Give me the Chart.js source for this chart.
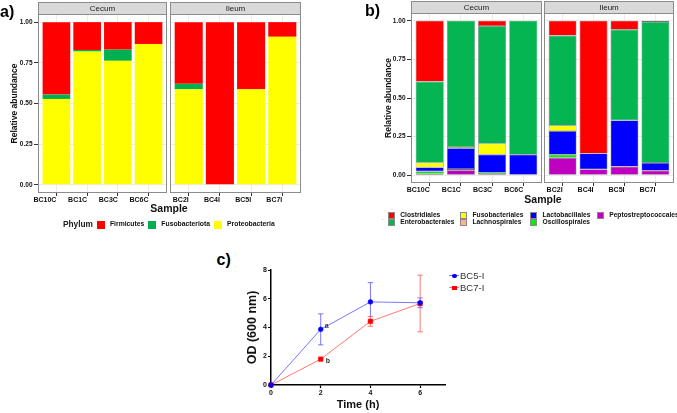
<!DOCTYPE html>
<html><head><meta charset="utf-8">
<script src="https://cdn.jsdelivr.net/npm/chart.js@4.4.1/dist/chart.umd.min.js"></script>
<style>
html,body{margin:0;padding:0;background:#fff;}
#root{position:relative;width:677px;height:413px;overflow:hidden;font-family:"Liberation Sans",Arial,sans-serif;color:#111;}
canvas{position:absolute;}
.lbl{position:absolute;white-space:nowrap;line-height:1;}
.letter{font-weight:bold;font-size:16px;color:#000;}
.xt{font-weight:bold;font-size:10.5px;text-align:center;width:80px;color:#111;}
.legA{position:absolute;left:63px;top:220px;height:9px;display:flex;align-items:center;white-space:nowrap;line-height:1;}
.legA .ttl{font-size:8.3px;font-weight:bold;margin-right:4px;color:#1a1a1a;}
.legA .sw{width:8px;height:8px;margin-right:5px;box-sizing:border-box;}
.legA .tx{font-size:6.8px;font-weight:bold;margin-right:4px;}
.legB{position:absolute;left:387.7px;top:211.3px;display:grid;grid-template-rows:7.6px 7.6px;grid-auto-flow:column;grid-template-columns:72.3px 70px 66.7px 90px;white-space:nowrap;line-height:1;}
.legB .it{display:flex;align-items:center;height:7.6px;}
.legB .sw{width:7.5px;height:7px;margin-right:5px;box-sizing:border-box;border:0.6px solid #8a8a8a;flex:none;}
.legB .tx{font-size:6.7px;font-weight:bold;}
.legC{position:absolute;left:449px;top:270px;line-height:1;}
.legC .it{display:flex;align-items:center;height:11.7px;}
.legC .mk{position:relative;width:10px;height:9px;margin-right:1px;flex:none;}
.legC .ln{position:absolute;left:0;top:4px;width:10px;height:1px;}
.legC .dt{position:absolute;left:3px;top:2.5px;width:4.5px;height:4.5px;}
.legC .tx{font-size:9.5px;color:#333;}
</style></head>
<body><div id="root">
<canvas id="aC" width="168" height="214" style="left:0px;top:0px"></canvas>
<canvas id="aI" width="131" height="214" style="left:170px;top:0px"></canvas>
<canvas id="bC" width="169" height="203" style="left:373px;top:0px"></canvas>
<canvas id="bI" width="130" height="203" style="left:544px;top:0px"></canvas>
<canvas id="cC" width="218" height="155" style="left:235px;top:258px"></canvas>
<div class="lbl letter" style="left:0px;top:4px">a)</div>
<div class="lbl letter" style="left:365px;top:3px">b)</div>
<div class="lbl letter" style="left:216.5px;top:251.5px">c)</div>
<div class="lbl xt" style="left:129px;top:203px">Sample</div>
<div class="lbl xt" style="left:503px;top:194px">Sample</div>
<div class="lbl" style="left:381.5px;top:215px;font-size:6px;color:#555">.</div>
<div id="legA" class="legA"></div>
<div id="legB" class="legB"></div>
<div id="legC" class="legC"></div>
</div>
<script>
// ---------------- DATA ----------------
const samplesCecum = ['BC10C', 'BC1C', 'BC3C', 'BC6C'];
const samplesIleum = ['BC2I', 'BC4I', 'BC5I', 'BC7I'];
const facetLabels = ['Cecum', 'Ileum'];
const yTickValues = [0, 0.25, 0.5, 0.75, 1];
const yTickLabels = ['0.00', '0.25', '0.50', '0.75', '1.00'];
const yMinorValues = [0.125, 0.375, 0.625, 0.875];

// Panel a (phylum)
const phyla = ['Firmicutes', 'Fusobacteriota', 'Proteobacteria'];
const phylaColors = ['#ff0000', '#00b050', '#ffff00'];
const firmicutesCecum = [0.445, 0.171, 0.169, 0.134];
const fusobacteriotaCecum = [0.027, 0.010, 0.069, 0.000];
const proteobacteriaCecum = [0.528, 0.819, 0.762, 0.866];
const firmicutesIleum = [0.379, 1.000, 0.413, 0.090];
const fusobacteriotaIleum = [0.034, 0.000, 0.000, 0.000];
const proteobacteriaIleum = [0.587, 0.000, 0.587, 0.910];

// Panel b (order)
const orders = ['Clostridiales', 'Enterobacterales', 'Fusobacteriales', 'Lachnospirales', 'Lactobacillales', 'Oscillospirales', 'Peptostreptococcales'];
const orderColors = ['#ff0000', '#05b552', '#ffff00', '#ffb08c', '#0000ff', '#00ee00', '#c000c0'];
const clostridialesCecum = [0.394, 0.000, 0.034, 0.000];
const enterobacteralesCecum = [0.525, 0.817, 0.762, 0.867];
const fusobacterialesCecum = [0.030, 0.008, 0.070, 0.000];
const lachnospiralesCecum = [0.000, 0.000, 0.000, 0.000];
const lactobacillalesCecum = [0.026, 0.135, 0.118, 0.133];
const oscillospiralesCecum = [0.015, 0.008, 0.012, 0.000];
const peptostreptococcalesCecum = [0.010, 0.032, 0.004, 0.000];
const clostridialesIleum = [0.096, 0.859, 0.058, 0.008];
const enterobacteralesIleum = [0.583, 0.000, 0.587, 0.912];
const fusobacterialesIleum = [0.035, 0.000, 0.000, 0.000];
const lachnospiralesIleum = [0.000, 0.000, 0.000, 0.000];
const lactobacillalesIleum = [0.153, 0.103, 0.299, 0.050];
const oscillospiralesIleum = [0.020, 0.000, 0.000, 0.000];
const peptostreptococcalesIleum = [0.113, 0.038, 0.056, 0.030];

// Panel c (growth)
const timeH = [0, 2, 4, 6];
const xTicksC = [0, 2, 4, 6];
const yTicksC = [0, 2, 4, 6, 8];
const strainNames = ['BC5-I', 'BC7-I'];
const bc5Mean = [0, 3.87, 5.78, 5.72];
const bc5Err = [0, 1.08, 1.34, 0.34];
const bc7Mean = [0, 1.80, 4.43, 5.67];
const bc7Err = [0, 0.04, 0.34, 1.97];
const bc5Sig = ['', 'a', '', ''];
const bc7Sig = ['', 'b', '', ''];

// ---------------- CHARTS ----------------
Chart.defaults.font.family = '"Liberation Sans", Arial, sans-serif';
Chart.defaults.color = '#111';

const facetPlugin = {
  id: 'facet',
  afterDraw(chart, args, opts) {
    const ctx = chart.ctx, a = chart.chartArea;
    ctx.save();
    ctx.strokeStyle = '#8c8c8c';
    ctx.lineWidth = 1;
    ctx.strokeRect(a.left + 0.5, a.top + 0.5, a.right - a.left - 1, a.bottom - a.top - 1);
    const sh = opts.stripH;
    ctx.fillStyle = '#d9d9d9';
    ctx.fillRect(a.left, a.top - sh, a.right - a.left, sh);
    ctx.strokeRect(a.left + 0.5, a.top - sh + 0.5, a.right - a.left - 1, sh);
    ctx.fillStyle = '#1a1a1a';
    ctx.font = '8px "Liberation Sans", Arial, sans-serif';
    ctx.textAlign = 'center';
    ctx.textBaseline = 'middle';
    ctx.fillText(opts.label, (a.left + a.right) / 2, a.top - sh / 2 + 0.5);
    ctx.restore();
  }
};

function makeFacet(id, samples, names, values, colors, cfg) {
  const datasets = names.map((name, k) => ({
    label: name,
    data: samples.map((s, j) => ({ x: j, y: values[k][j] })),
    backgroundColor: colors[k],
    borderColor: cfg.barBorder || colors[k],
    borderWidth: cfg.barBorderWidth || 0,
    borderSkipped: false,
    barPercentage: 0.9,
    categoryPercentage: 1
  }));
  const isMajor = v => yTickValues.indexOf(v) >= 0;
  return new Chart(document.getElementById(id), {
    type: 'bar',
    data: { datasets },
    plugins: [facetPlugin],
    options: {
      responsive: false, animation: false, devicePixelRatio: 1,
      layout: { padding: { top: cfg.padTop, left: 0, right: cfg.padRight, bottom: 0 } },
      plugins: { legend: { display: false }, tooltip: { enabled: false }, facet: { label: cfg.label, stripH: 12 } },
      scales: {
        x: {
          type: 'linear', stacked: true, min: -0.6, max: samples.length - 1 + 0.6, offset: false,
          afterBuildTicks: s => { s.ticks = samples.map((_, j) => ({ value: j })); },
          afterFit: s => { s.height = cfg.xAxisH; s.paddingLeft = 0; s.paddingRight = 0; },
          ticks: { callback: v => samples[v], align: 'end', padding: 0, maxRotation: 0, minRotation: 0, autoSkip: false,
                   font: { size: 7, weight: 'bold' }, color: '#111' },
          grid: { offset: false, color: '#ebebeb', lineWidth: 1, tickColor: '#333', tickLength: 3, tickWidth: 1 },
          border: { display: false }
        },
        y: {
          type: 'linear', stacked: true, min: -0.05, max: 1.05,
          afterBuildTicks: s => { s.ticks = yTickValues.concat(yMinorValues).sort((p, q) => p - q).map(v => ({ value: v })); },
          afterFit: s => { s.width = cfg.yAxisW; s.paddingTop = 0; s.paddingBottom = 0; },
          ticks: { display: cfg.showY, padding: 1.5, font: { size: 6.5, weight: 'bold' }, color: '#111',
                   callback: v => { const i = yTickValues.indexOf(v); return i >= 0 ? yTickLabels[i] : ''; } },
          grid: {
            color: c => isMajor(c.tick.value) ? '#ebebeb' : '#f4f4f4',
            lineWidth: c => isMajor(c.tick.value) ? 1 : 0.6,
            tickColor: c => isMajor(c.tick.value) ? '#333' : 'rgba(0,0,0,0)',
            drawTicks: cfg.showY, tickLength: 4, tickWidth: 1
          },
          border: { display: false },
          title: { display: cfg.showY, text: 'Relative abundance', color: '#111',
                   font: { size: 8.5, weight: 'bold' }, padding: { top: cfg.titlePad, bottom: 0 } }
        }
      }
    }
  });
}

// panel a: stack bottom -> top = reverse of legend order
const aNames = phyla.slice().reverse();
const aColors = phylaColors.slice().reverse();
makeFacet('aC', samplesCecum, aNames, [proteobacteriaCecum, fusobacteriotaCecum, firmicutesCecum], aColors,
  { label: facetLabels[0], padTop: 14, padRight: 1, xAxisH: 21, yAxisW: 38, showY: true, titlePad: 9.9 });
makeFacet('aI', samplesIleum, aNames, [proteobacteriaIleum, fusobacteriotaIleum, firmicutesIleum], aColors,
  { label: facetLabels[1], padTop: 14, padRight: 0, xAxisH: 21, yAxisW: 0, showY: false, titlePad: 0 });

// panel b
const bNames = orders.slice().reverse();
const bColors = orderColors.slice().reverse();
const bCecum = [clostridialesCecum, enterobacteralesCecum, fusobacterialesCecum, lachnospiralesCecum, lactobacillalesCecum, oscillospiralesCecum, peptostreptococcalesCecum].reverse();
const bIleum = [clostridialesIleum, enterobacteralesIleum, fusobacterialesIleum, lachnospiralesIleum, lactobacillalesIleum, oscillospiralesIleum, peptostreptococcalesIleum].reverse();
makeFacet('bC', samplesCecum, bNames, bCecum, bColors,
  { label: facetLabels[0], padTop: 13, padRight: 0, xAxisH: 20, yAxisW: 38, showY: true, titlePad: 10.9, barBorder: 'rgba(80,80,80,0.8)', barBorderWidth: 0.6 });
makeFacet('bI', samplesIleum, bNames, bIleum, bColors,
  { label: facetLabels[1], padTop: 13, padRight: 0, xAxisH: 20, yAxisW: 0, showY: false, titlePad: 0, barBorder: 'rgba(80,80,80,0.8)', barBorderWidth: 0.6 });

// panel c
const growthPlugin = {
  id: 'growthExtras',
  beforeDatasetsDraw(chart) {
    const ctx = chart.ctx, xs = chart.scales.x, ys = chart.scales.y;
    chart.data.datasets.forEach(ds => {
      if (!ds.errors) return;
      ctx.save();
      ctx.strokeStyle = ds.errorColor;
      ctx.lineWidth = 1;
      ds.data.forEach((p, j) => {
        const e = ds.errors[j];
        if (!e) return;
        const px = xs.getPixelForValue(p.x);
        const t = ys.getPixelForValue(p.y + e), b = ys.getPixelForValue(p.y - e);
        ctx.beginPath();
        ctx.moveTo(px, t); ctx.lineTo(px, b);
        ctx.moveTo(px - 2.7, t); ctx.lineTo(px + 2.7, t);
        ctx.moveTo(px - 2.7, b); ctx.lineTo(px + 2.7, b);
        ctx.stroke();
      });
      ctx.restore();
    });
  },
  afterDatasetsDraw(chart) {
    const ctx = chart.ctx;
    chart.data.datasets.forEach((ds, i) => {
      if (!ds.sig) return;
      const meta = chart.getDatasetMeta(i);
      ctx.save();
      ctx.fillStyle = '#333';
      ctx.font = 'bold 7px "Liberation Sans", Arial, sans-serif';
      ctx.textAlign = 'left';
      ctx.textBaseline = 'middle';
      ds.sig.forEach((s, j) => {
        if (!s) return;
        const el = meta.data[j];
        ctx.fillText(s, el.x + ds.sigOffset[0], el.y + ds.sigOffset[1]);
      });
      ctx.restore();
    });
  }
};

const strainStyle = [
  { point: '#0000ff', line: 'rgba(95,95,255,0.85)', shape: 'circle', r: 2.4, sig: bc5Sig, off: [4, -3] },
  { point: '#ff0000', line: 'rgba(255,95,95,0.85)', shape: 'rect', r: 3.2, sig: bc7Sig, off: [5, 2] }
];
const strainMeans = [bc5Mean, bc7Mean];
const strainErrs = [bc5Err, bc7Err];

new Chart(document.getElementById('cC'), {
  type: 'line',
  data: {
    datasets: strainNames.map((n, k) => ({
      label: n,
      data: timeH.map((t, i) => ({ x: t, y: strainMeans[k][i] })),
      errors: strainErrs[k], errorColor: strainStyle[k].line,
      sig: strainStyle[k].sig, sigOffset: strainStyle[k].off,
      borderColor: strainStyle[k].line, borderWidth: 1, tension: 0,
      backgroundColor: strainStyle[k].point,
      pointBackgroundColor: strainStyle[k].point, pointBorderColor: strainStyle[k].point,
      pointBorderWidth: 0.5, pointStyle: strainStyle[k].shape, pointRadius: strainStyle[k].r,
      clip: false
    }))
  },
  plugins: [growthPlugin],
  options: {
    responsive: false, animation: false, devicePixelRatio: 1,
    layout: { padding: { top: 12, left: 0, right: 8, bottom: 0 } },
    plugins: { legend: { display: false }, tooltip: { enabled: false } },
    scales: {
      x: {
        type: 'linear', min: 0, max: 7,
        afterBuildTicks: s => { s.ticks = xTicksC.map(v => ({ value: v })); },
        afterFit: s => { s.height = 28; s.paddingLeft = 0; s.paddingRight = 0; },
        ticks: { font: { size: 7, weight: 'bold' }, color: '#111', padding: 0.5, maxRotation: 0 },
        grid: { drawOnChartArea: false, drawTicks: true, tickLength: 3, tickColor: '#000', tickWidth: 1.2 },
        border: { display: true, color: '#000', width: 1.5 },
        title: { display: true, text: 'Time (h)', color: '#111', font: { size: 11, weight: 'bold' }, padding: { top: 0, bottom: 1.5 } }
      },
      y: {
        type: 'linear', min: 0, max: 8,
        afterBuildTicks: s => { s.ticks = yTicksC.map(v => ({ value: v })); },
        afterFit: s => { s.width = 36; s.paddingTop = 0; s.paddingBottom = 0; },
        ticks: { font: { size: 7, weight: 'bold' }, color: '#111', padding: 1 },
        grid: { drawOnChartArea: false, drawTicks: true, tickLength: 3, tickColor: '#000', tickWidth: 1.2 },
        border: { display: true, color: '#000', width: 1.5 },
        title: { display: true, text: 'OD (600 nm)', color: '#111', font: { size: 12.5, weight: 'bold' }, padding: { top: 10.5, bottom: 0 } }
      }
    }
  }
});

// ---------------- LEGENDS (HTML text) ----------------
(function () {
  const la = document.getElementById('legA');
  let h = '<span class="ttl">Phylum</span>';
  phyla.forEach((p, i) => { h += '<span class="sw" style="background:' + phylaColors[i] + '"></span><span class="tx">' + p + '</span>'; });
  la.innerHTML = h;
  const lb = document.getElementById('legB');
  let hb = '';
  orders.forEach((o, i) => { hb += '<div class="it"><span class="sw" style="background:' + orderColors[i] + '"></span><span class="tx">' + o + '</span></div>'; });
  lb.innerHTML = hb;
  const lc = document.getElementById('legC');
  let hc = '';
  strainNames.forEach((n, k) => {
    const st = strainStyle[k];
    hc += '<div class="it"><span class="mk"><span class="ln" style="background:' + st.line + '"></span><span class="dt" style="background:' + st.point + ';border-radius:' + (st.shape === 'circle' ? '50%' : '0') + '"></span></span><span class="tx">' + n + '</span></div>';
  });
  lc.innerHTML = hc;
})();
</script>
</body></html>
